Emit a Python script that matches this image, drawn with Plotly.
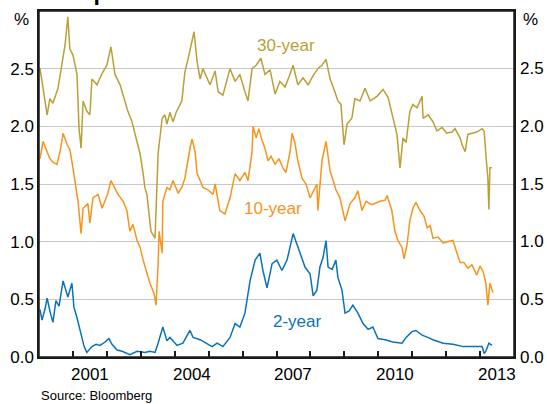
import plotly.graph_objects as go

# Japanese government bond yields, per cent
yr30_x = [2000.03, 2000.12, 2000.24, 2000.32, 2000.41, 2000.56, 2000.68, 2000.77, 2000.85, 2000.91,
          2001.00, 2001.12, 2001.18, 2001.24, 2001.30, 2001.41, 2001.50, 2001.56, 2001.71, 2001.86,
          2002.00, 2002.12, 2002.24, 2002.39, 2002.53, 2002.62, 2002.74, 2002.83, 2002.98, 2003.07,
          2003.12, 2003.18, 2003.30, 2003.42, 2003.51, 2003.63, 2003.71, 2003.77, 2003.86, 2003.95,
          2004.04, 2004.21, 2004.30, 2004.39, 2004.51, 2004.57, 2004.66, 2004.75, 2004.83, 2004.95,
          2005.04, 2005.19, 2005.28, 2005.42, 2005.54, 2005.63, 2005.78, 2005.92, 2006.07, 2006.16,
          2006.28, 2006.40, 2006.54, 2006.66, 2006.81, 2006.96, 2007.10, 2007.25, 2007.37, 2007.49,
          2007.63, 2007.78, 2007.93, 2008.08, 2008.22, 2008.34, 2008.46, 2008.58, 2008.72, 2008.81,
          2008.90, 2008.99, 2009.08, 2009.22, 2009.31, 2009.46, 2009.61, 2009.76, 2009.96, 2010.14,
          2010.29, 2010.43, 2010.55, 2010.64, 2010.73, 2010.82, 2010.93, 2011.02, 2011.14, 2011.29,
          2011.32, 2011.47, 2011.61, 2011.73, 2011.88, 2012.02, 2012.17, 2012.26, 2012.41, 2012.47,
          2012.56, 2012.64, 2012.76, 2012.90, 2013.06, 2013.12, 2013.17, 2013.23, 2013.26, 2013.29,
          2013.35]
yr30_y = [2.50, 2.33, 2.10, 2.24, 2.20, 2.33, 2.56, 2.71, 2.95, 2.67,
          2.62, 2.45, 1.98, 1.81, 2.22, 2.13, 2.10, 2.41, 2.36, 2.46,
          2.53, 2.69, 2.45, 2.36, 2.22, 2.13, 2.04, 1.93, 1.76, 1.59,
          1.47, 1.41, 1.09, 1.03, 1.76, 2.07, 2.10, 2.02, 2.12, 2.04,
          2.12, 2.22, 2.47, 2.58, 2.73, 2.82, 2.56, 2.41, 2.50, 2.41,
          2.36, 2.48, 2.30, 2.27, 2.39, 2.50, 2.39, 2.45, 2.30, 2.22,
          2.50, 2.53, 2.59, 2.45, 2.49, 2.28, 2.39, 2.34, 2.43, 2.53,
          2.36, 2.42, 2.36, 2.44, 2.50, 2.53, 2.58, 2.41, 2.30, 2.22,
          2.19, 1.84, 2.02, 2.07, 2.24, 2.22, 2.33, 2.22, 2.26, 2.32,
          2.25, 2.07, 1.93, 1.64, 1.90, 1.86, 2.13, 2.19, 2.16, 2.26,
          2.07, 2.10, 2.04, 1.96, 1.99, 1.94, 1.95, 1.98, 1.90, 1.84,
          1.78, 1.93, 1.94, 1.95, 1.98, 1.96, 1.76, 1.55, 1.28, 1.64,
          1.64]

yr10_x = [2000.03, 2000.12, 2000.21, 2000.32, 2000.41, 2000.53, 2000.62, 2000.71, 2000.83, 2000.91,
          2001.00, 2001.06, 2001.15, 2001.24, 2001.30, 2001.44, 2001.50, 2001.59, 2001.74, 2001.86,
          2001.97, 2002.03, 2002.12, 2002.33, 2002.48, 2002.59, 2002.68, 2002.77, 2002.89, 2002.98,
          2003.07, 2003.18, 2003.27, 2003.39, 2003.45, 2003.51, 2003.54, 2003.63, 2003.65, 2003.77,
          2003.86, 2003.95, 2004.10, 2004.21, 2004.30, 2004.45, 2004.51, 2004.60, 2004.66, 2004.75,
          2004.83, 2004.98, 2005.13, 2005.19, 2005.33, 2005.48, 2005.63, 2005.78, 2005.92, 2006.07,
          2006.16, 2006.28, 2006.31, 2006.40, 2006.48, 2006.57, 2006.66, 2006.75, 2006.84, 2006.96,
          2007.07, 2007.19, 2007.28, 2007.40, 2007.46, 2007.54, 2007.63, 2007.75, 2007.87, 2007.99,
          2008.10, 2008.19, 2008.22, 2008.34, 2008.46, 2008.58, 2008.67, 2008.75, 2008.87, 2009.02,
          2009.17, 2009.31, 2009.40, 2009.52, 2009.64, 2009.81, 2010.05, 2010.20, 2010.26, 2010.40,
          2010.49, 2010.58, 2010.70, 2010.76, 2010.85, 2010.93, 2011.02, 2011.11, 2011.23, 2011.35,
          2011.44, 2011.53, 2011.61, 2011.76, 2011.91, 2012.05, 2012.20, 2012.32, 2012.41, 2012.52,
          2012.64, 2012.76, 2012.90, 2013.00, 2013.09, 2013.17, 2013.23, 2013.29, 2013.38]
yr10_y = [1.72, 1.87, 1.80, 1.72, 1.69, 1.67, 1.78, 1.94, 1.84, 1.80,
          1.64, 1.53, 1.35, 1.07, 1.29, 1.33, 1.16, 1.38, 1.41, 1.29,
          1.38, 1.42, 1.53, 1.41, 1.35, 1.27, 1.09, 1.15, 1.01, 0.95,
          0.84, 0.72, 0.64, 0.55, 0.45, 0.81, 1.09, 0.90, 1.35, 1.47,
          1.45, 1.53, 1.42, 1.47, 1.55, 1.81, 1.89, 1.78, 1.59, 1.53,
          1.47, 1.45, 1.41, 1.50, 1.27, 1.24, 1.38, 1.59, 1.53, 1.60,
          1.53, 1.78, 2.00, 1.90, 1.98, 1.88, 1.81, 1.70, 1.74, 1.67,
          1.72, 1.64, 1.60, 1.78, 1.94, 1.86, 1.70, 1.55, 1.50, 1.38,
          1.45, 1.50, 1.27, 1.70, 1.87, 1.61, 1.53, 1.45, 1.38, 1.18,
          1.33, 1.38, 1.44, 1.27, 1.35, 1.32, 1.35, 1.36, 1.40, 1.27,
          1.09, 1.01, 0.95, 0.85, 0.98, 1.18, 1.29, 1.34, 1.27, 1.22,
          1.12, 1.14, 1.03, 1.04, 0.99, 1.00, 1.01, 0.90, 0.82, 0.82,
          0.77, 0.80, 0.71, 0.79, 0.74, 0.64, 0.45, 0.64, 0.56]

yr2_x = [2000.03, 2000.09, 2000.18, 2000.24, 2000.32, 2000.41, 2000.50, 2000.59, 2000.71, 2000.80,
         2000.85, 2000.97, 2001.03, 2001.12, 2001.18, 2001.27, 2001.33, 2001.41, 2001.56, 2001.68,
         2001.80, 2001.95, 2002.06, 2002.15, 2002.30, 2002.45, 2002.68, 2002.89, 2003.12, 2003.27,
         2003.42, 2003.51, 2003.65, 2003.77, 2003.86, 2004.07, 2004.24, 2004.45, 2004.54, 2004.75,
         2004.92, 2005.10, 2005.25, 2005.42, 2005.63, 2005.78, 2005.92, 2006.07, 2006.22, 2006.37,
         2006.51, 2006.60, 2006.72, 2006.87, 2007.01, 2007.16, 2007.31, 2007.40, 2007.49, 2007.60,
         2007.69, 2007.84, 2007.99, 2008.08, 2008.19, 2008.28, 2008.37, 2008.46, 2008.52, 2008.64,
         2008.75, 2008.81, 2008.93, 2009.02, 2009.14, 2009.25, 2009.40, 2009.55, 2009.70, 2009.84,
         2009.99, 2010.20, 2010.43, 2010.70, 2010.82, 2010.99, 2011.11, 2011.29, 2011.46, 2011.61,
         2011.91, 2012.20, 2012.50, 2012.76, 2013.06, 2013.12, 2013.17, 2013.26, 2013.35]
yr2_y = [0.41, 0.32, 0.42, 0.51, 0.40, 0.30, 0.49, 0.44, 0.66, 0.56,
         0.52, 0.64, 0.43, 0.34, 0.26, 0.17, 0.09, 0.04, 0.09, 0.11,
         0.10, 0.13, 0.16, 0.11, 0.06, 0.05, 0.02, 0.05, 0.04, 0.05,
         0.04, 0.12, 0.26, 0.14, 0.17, 0.10, 0.12, 0.23, 0.17, 0.15,
         0.12, 0.09, 0.12, 0.09, 0.17, 0.29, 0.26, 0.38, 0.66, 0.84,
         0.90, 0.75, 0.60, 0.81, 0.84, 0.75, 0.84, 0.95, 1.07, 0.98,
         0.90, 0.78, 0.72, 0.53, 0.58, 0.78, 0.86, 1.01, 0.78, 0.76,
         0.84, 0.69, 0.58, 0.38, 0.40, 0.45, 0.38, 0.29, 0.24, 0.26,
         0.16, 0.15, 0.13, 0.12, 0.17, 0.22, 0.23, 0.19, 0.17, 0.15,
         0.12, 0.11, 0.09, 0.09, 0.09, 0.03, 0.05, 0.12, 0.10]

year_ticks = list(range(2001, 2014))
label_years = [2001, 2004, 2007, 2010, 2013]
pct_ticks = [0.0, 0.5, 1.0, 1.5, 2.0, 2.5]

GOLD = '#B9A038'
ORANGE = '#F7941D'
BLUE = '#0A72BA'
FONT = 'Arial, Liberation Sans, sans-serif'

fig = go.Figure()
fig.add_trace(go.Scatter(x=yr30_x, y=yr30_y, mode='lines', name='30-year',
                         line=dict(color=GOLD, width=1.5)))
fig.add_trace(go.Scatter(x=yr10_x, y=yr10_y, mode='lines', name='10-year',
                         line=dict(color=ORANGE, width=1.5)))
fig.add_trace(go.Scatter(x=yr2_x, y=yr2_y, mode='lines', name='2-year',
                         line=dict(color=BLUE, width=1.5)))

fig.update_layout(
    width=547, height=404,
    margin=dict(l=39, r=33, t=9, b=47),
    paper_bgcolor='white', plot_bgcolor='white',
    showlegend=False,
    font=dict(family=FONT, size=17, color='black'),
    xaxis=dict(
        range=[2000, 2014],
        tickmode='array', tickvals=year_ticks, showticklabels=False,
        ticks='inside', ticklen=6, tickcolor='#1a1a1a', tickwidth=1.5,
        showgrid=False, zeroline=False,
        showline=True, linecolor='#1a1a1a', linewidth=1.5, mirror=True,
    ),
    yaxis=dict(
        range=[0, 3],
        tickmode='array', tickvals=pct_ticks, tickformat='.1f',
        ticks='', showgrid=True, gridcolor='#C8C8C8', gridwidth=1,
        zeroline=False,
        showline=True, linecolor='#1a1a1a', linewidth=1.5, mirror=True,
    ),
)

# frame round the plot area
fig.add_shape(type='rect', xref='paper', yref='paper', x0=0, y0=0, x1=1, y1=1,
              line=dict(color='#1a1a1a', width=1.5), fillcolor='rgba(0,0,0,0)',
              layer='above')

# year labels sit in the middle of each year, between the tick marks
for yr in label_years:
    fig.add_annotation(x=yr + 0.5, y=0, yref='paper', yanchor='top', yshift=-6,
                       text=str(yr), showarrow=False)

# right-hand scale repeats the left-hand one
for v in pct_ticks:
    fig.add_annotation(x=1, xref='paper', xanchor='left', xshift=4, y=v,
                       text=f'{v:.1f}', showarrow=False)

# series labels
fig.add_annotation(x=2007.28, y=2.70, text='30-year', showarrow=False,
                   font=dict(color=GOLD, size=17))
fig.add_annotation(x=2006.9, y=1.29, text='10-year', showarrow=False,
                   font=dict(color=ORANGE, size=17))
fig.add_annotation(x=2007.63, y=0.31, text='2-year', showarrow=False,
                   font=dict(color=BLUE, size=17))

# unit labels
fig.add_annotation(xref='paper', yref='paper', x=-0.036, y=0.974, text='%',
                   showarrow=False, xanchor='center', yanchor='middle')
fig.add_annotation(xref='paper', yref='paper', x=1.034, y=0.974, text='%',
                   showarrow=False, xanchor='center', yanchor='middle')

# title, mostly cut off by the top edge as in the reference
fig.add_annotation(xref='paper', yref='paper', x=0.467, y=1.0115,
                   text='<b>Japanese Government Bond Yields</b>',
                   showarrow=False, xanchor='center', yanchor='bottom',
                   font=dict(size=23))

fig.add_annotation(xref='paper', yref='paper', x=0, y=-0.085,
                   text='Source: Bloomberg', showarrow=False,
                   xanchor='left', yanchor='top', font=dict(size=13))

# remove the default page margin so the figure sits at the window's corner
fig.write_html("out.html", config={'displayModeBar': False},
               post_script="document.body.style.margin='0';")
